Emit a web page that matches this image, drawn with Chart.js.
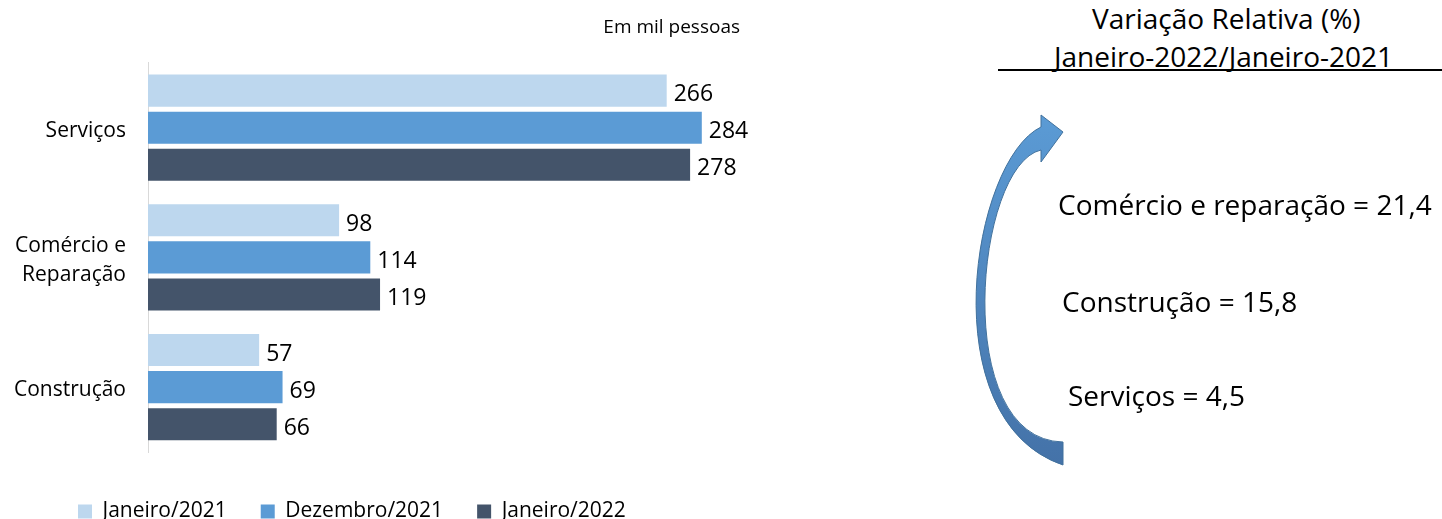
<!DOCTYPE html>
<html>
<head>
<meta charset="utf-8">
<script src="https://cdn.jsdelivr.net/npm/chart.js@4.4.1/dist/chart.umd.min.js"></script>
<style>
  body { margin: 0; background: #fff; overflow: hidden; font-family: 'Open Sans', sans-serif; color: #000; }
  #chartBox { position: absolute; left: 0; top: 0; width: 780px; height: 532px; }
  .txt { position: absolute; white-space: nowrap; font-size: 28px; line-height: 34px; }
  #rule { position: absolute; left: 998px; top: 69px; width: 444px; height: 2px; background: #000; }
  #arrow { position: absolute; left: 0; top: 0; }
</style>
</head>
<body>
<div id="chartBox"><canvas id="bars"></canvas></div>

<div class="txt" style="left:1092px; top:1px;">Variação Relativa (%)</div>
<div class="txt" style="left:1054px; top:39px;">Janeiro-2022/Janeiro-2021</div>
<div id="rule"></div>

<svg id="arrow" width="1442" height="519">
  <defs>
    <linearGradient id="arrowFill" x1="0" y1="0" x2="0" y2="1">
      <stop offset="0" stop-color="#5b9bd5"/>
      <stop offset="1" stop-color="#4472a8"/>
    </linearGradient>
  </defs>
  <path d="M 1063 132 L 1041 115 L 1041 127 C 972 160, 930 420, 1063 465 L 1063 442 C 950 440, 975 165, 1041 150 L 1041 162 Z"
        fill="url(#arrowFill)" stroke="#41719c" stroke-width="1"/>
</svg>

<div class="txt" style="left:1058px; top:187px;">Comércio e reparação = 21,4</div>
<div class="txt" style="left:1062px; top:284px;">Construção = 15,8</div>
<div class="txt" style="left:1068px; top:378px;">Serviços = 4,5</div>

<script>
// categories and values (em mil pessoas)
const categories = ['Serviços', ['Comércio e', 'Reparação'], 'Construção'];
const jan2021 = [266, 98, 57];
const dez2021 = [284, 114, 69];
const jan2022 = [278, 119, 66];
const seriesNames = ['Janeiro/2021', 'Dezembro/2021', 'Janeiro/2022'];
const seriesColors = ['#bdd7ee', '#5b9bd5', '#44546a'];

// value labels to the right of each bar
const barLabels = {
    id: 'barLabels',
    afterDatasetsDraw(chart) {
        const ctx = chart.ctx;
        ctx.save();
        ctx.font = '23px "Open Sans"';
        ctx.fillStyle = '#000';
        ctx.textAlign = 'left';
        ctx.textBaseline = 'middle';
        chart.data.datasets.forEach((ds, i) => {
            chart.getDatasetMeta(i).data.forEach((bar, j) => {
                ctx.fillText(ds.data[j], bar.x + 7, bar.y + 4);
            });
        });
        ctx.restore();
    }
};

// nudge legend and title sideways, the y axis needs the full left margin
const nudgeBoxes = {
    id: 'nudgeBoxes',
    afterLayout(chart) {
        chart.legend.left += 44;
        chart.legend.right += 44;
        chart.titleBlock.left += 7;
        chart.titleBlock.right += 7;
    }
};

const ctx = document.getElementById('bars').getContext('2d');
new Chart(ctx, {
    type: 'bar',
    data: {
        labels: categories,
        datasets: [
            { label: seriesNames[0], data: jan2021, backgroundColor: seriesColors[0] },
            { label: seriesNames[1], data: dez2021, backgroundColor: seriesColors[1] },
            { label: seriesNames[2], data: jan2022, backgroundColor: seriesColors[2] }
        ]
    },
    options: {
        indexAxis: 'y',
        responsive: true,
        maintainAspectRatio: false,
        animation: false,
        categoryPercentage: 0.857,
        barPercentage: 0.865,
        layout: { padding: { left: 0, right: 47, top: 0, bottom: 0 } },
        plugins: {
            title: {
                display: true,
                text: 'Em mil pessoas',
                align: 'end',
                color: '#000',
                font: { family: 'Open Sans', size: 19, weight: 'normal' },
                padding: { top: 16, bottom: 24 }
            },
            legend: {
                position: 'bottom',
                align: 'start',
                labels: {
                    color: '#000',
                    font: { family: 'Open Sans', size: 21 },
                    boxWidth: 14,
                    boxHeight: 14,
                    padding: 34
                }
            },
            tooltip: { enabled: false }
        },
        scales: {
            x: {
                min: 0,
                max: 300,
                ticks: { display: false },
                grid: { display: false, drawTicks: false },
                border: { display: false },
                afterFit: s => { s.height = 15; }
            },
            y: {
                ticks: {
                    color: '#000',
                    padding: 22,
                    labelOffset: 3,
                    font: { family: 'Open Sans', size: 21, lineHeight: 1.38 }
                },
                grid: { display: false, drawTicks: false },
                border: { display: true, color: '#d9d9d9', width: 1 },
                afterFit: s => { s.width = 148; }
            }
        }
    },
    plugins: [barLabels, nudgeBoxes]
});
</script>
</body>
</html>
